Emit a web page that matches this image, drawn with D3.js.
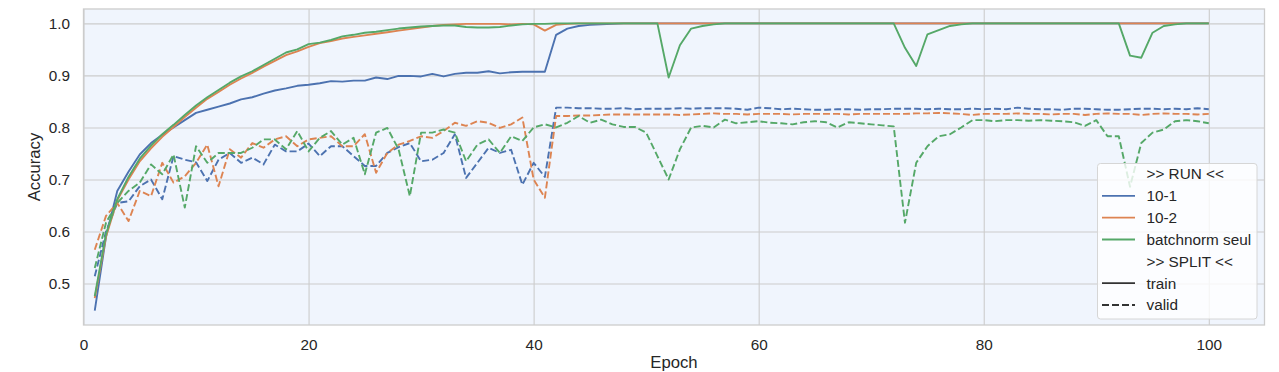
<!DOCTYPE html>
<html>
<head>
<meta charset="utf-8">
<script src="https://cdn.jsdelivr.net/npm/d3@7"></script>
<style>
  body { margin: 0; background: #ffffff; }
  text { font-family: "Liberation Sans", Arial, sans-serif; fill: #262626; }
</style>
</head>
<body>
<div id="chart"></div>
<script>
// epochs 1..100
let epochs = d3.range(1, 101);

let train_10_1 = [
  0.448, 0.590, 0.678, 0.715, 0.748, 0.770, 0.786, 0.800, 0.814, 0.828,
  0.834, 0.840, 0.846, 0.854, 0.858, 0.865, 0.871, 0.875, 0.880, 0.882,
  0.885, 0.889, 0.888, 0.890, 0.890, 0.896, 0.893, 0.899, 0.899, 0.898,
  0.903, 0.898, 0.903, 0.905, 0.905, 0.908, 0.904, 0.906, 0.907, 0.907,
  0.907, 0.978, 0.990, 0.995, 0.997, 0.998, 0.999, 1.000, 1.000, 1.000,
  1.000, 1.000, 1.000, 1.000, 1.000, 1.000, 1.000, 1.000, 1.000, 1.000,
  1.000, 1.000, 1.000, 1.000, 1.000, 1.000, 1.000, 1.000, 1.000, 1.000,
  1.000, 1.000, 1.000, 1.000, 1.000, 1.000, 1.000, 1.000, 1.000, 1.000,
  1.000, 1.000, 1.000, 1.000, 1.000, 1.000, 1.000, 1.000, 1.000, 1.000,
  1.000, 1.000, 1.000, 1.000, 1.000, 1.000, 1.000, 1.000, 1.000, 1.000
];
let valid_10_1 = [
  0.514, 0.600, 0.655, 0.658, 0.687, 0.700, 0.662, 0.745, 0.738, 0.733,
  0.697, 0.738, 0.751, 0.732, 0.742, 0.729, 0.767, 0.754, 0.754, 0.769,
  0.745, 0.764, 0.764, 0.745, 0.726, 0.726, 0.751, 0.762, 0.770, 0.735,
  0.738, 0.751, 0.787, 0.703, 0.732, 0.761, 0.751, 0.757, 0.690, 0.732,
  0.705, 0.838, 0.838, 0.837, 0.837, 0.836, 0.836, 0.837, 0.835, 0.836,
  0.836, 0.836, 0.837, 0.836, 0.837, 0.837, 0.837, 0.836, 0.834, 0.838,
  0.837, 0.835, 0.836, 0.835, 0.834, 0.834, 0.835, 0.835, 0.834, 0.835,
  0.835, 0.836, 0.836, 0.836, 0.835, 0.836, 0.835, 0.835, 0.836, 0.835,
  0.836, 0.835, 0.838, 0.836, 0.835, 0.835, 0.834, 0.836, 0.836, 0.835,
  0.834, 0.834, 0.835, 0.836, 0.836, 0.835, 0.836, 0.835, 0.837, 0.835
];
let train_10_2 = [
  0.472, 0.590, 0.660, 0.700, 0.735, 0.760, 0.782, 0.801, 0.820, 0.838,
  0.855, 0.868, 0.882, 0.894, 0.905, 0.917, 0.928, 0.939, 0.946, 0.955,
  0.962, 0.966, 0.971, 0.974, 0.977, 0.980, 0.983, 0.986, 0.989, 0.992,
  0.995, 0.997, 0.998, 0.999, 0.999, 0.999, 0.999, 0.998, 0.999, 0.998,
  0.986, 0.997, 0.999, 1.000, 1.000, 1.000, 1.000, 1.000, 1.000, 1.000,
  1.000, 1.000, 1.000, 1.000, 1.000, 1.000, 1.000, 1.000, 1.000, 1.000,
  1.000, 1.000, 1.000, 1.000, 1.000, 1.000, 1.000, 1.000, 1.000, 1.000,
  1.000, 1.000, 1.000, 1.000, 1.000, 1.000, 1.000, 1.000, 1.000, 1.000,
  1.000, 1.000, 1.000, 1.000, 1.000, 1.000, 1.000, 1.000, 1.000, 1.000,
  1.000, 1.000, 1.000, 1.000, 1.000, 1.000, 1.000, 1.000, 1.000, 1.000
];
let valid_10_2 = [
  0.565, 0.630, 0.655, 0.620, 0.678, 0.668, 0.732, 0.694, 0.706, 0.732,
  0.767, 0.687, 0.758, 0.742, 0.770, 0.761, 0.777, 0.783, 0.764, 0.777,
  0.780, 0.783, 0.764, 0.764, 0.787, 0.713, 0.751, 0.767, 0.774, 0.783,
  0.780, 0.793, 0.809, 0.803, 0.812, 0.809, 0.799, 0.806, 0.819, 0.700,
  0.665, 0.822, 0.822, 0.823, 0.823, 0.824, 0.825, 0.825, 0.825, 0.825,
  0.825, 0.825, 0.824, 0.825, 0.826, 0.827, 0.826, 0.826, 0.825, 0.826,
  0.826, 0.826, 0.825, 0.826, 0.826, 0.826, 0.826, 0.825, 0.826, 0.826,
  0.826, 0.826, 0.826, 0.827, 0.827, 0.828, 0.827, 0.826, 0.824, 0.826,
  0.826, 0.826, 0.827, 0.826, 0.826, 0.825, 0.826, 0.826, 0.824, 0.826,
  0.827, 0.826, 0.826, 0.824, 0.826, 0.827, 0.826, 0.826, 0.825, 0.826
];
let train_bn = [
  0.476, 0.595, 0.662, 0.705, 0.740, 0.765, 0.787, 0.805, 0.824, 0.842,
  0.858, 0.872, 0.886, 0.898, 0.908, 0.920, 0.932, 0.944, 0.950, 0.960,
  0.963, 0.968, 0.975, 0.978, 0.982, 0.984, 0.987, 0.990, 0.992, 0.994,
  0.995, 0.996, 0.996, 0.993, 0.992, 0.992, 0.993, 0.996, 0.998, 0.999,
  0.999, 1.000, 1.000, 1.000, 1.000, 1.000, 1.000, 1.000, 1.000, 1.000,
  1.000, 0.896, 0.958, 0.990, 0.995, 0.998, 1.000, 1.000, 1.000, 1.000,
  1.000, 1.000, 1.000, 1.000, 1.000, 1.000, 1.000, 1.000, 1.000, 1.000,
  1.000, 1.000, 0.953, 0.918, 0.979, 0.987, 0.995, 0.998, 1.000, 1.000,
  1.000, 1.000, 1.000, 1.000, 1.000, 1.000, 1.000, 1.000, 1.000, 1.000,
  1.000, 1.000, 0.938, 0.934, 0.982, 0.995, 0.998, 1.000, 1.000, 1.000
];
let valid_bn = [
  0.530, 0.617, 0.655, 0.678, 0.694, 0.729, 0.710, 0.748, 0.646, 0.764,
  0.732, 0.751, 0.751, 0.751, 0.761, 0.777, 0.777, 0.758, 0.793, 0.754,
  0.780, 0.793, 0.767, 0.780, 0.710, 0.790, 0.799, 0.758, 0.668, 0.790,
  0.790, 0.796, 0.790, 0.735, 0.767, 0.777, 0.751, 0.783, 0.774, 0.800,
  0.806, 0.800, 0.809, 0.822, 0.809, 0.815, 0.806, 0.801, 0.801, 0.790,
  0.745, 0.700, 0.758, 0.800, 0.803, 0.800, 0.815, 0.808, 0.810, 0.812,
  0.809, 0.808, 0.806, 0.810, 0.812, 0.810, 0.800, 0.810, 0.808, 0.806,
  0.804, 0.802, 0.617, 0.732, 0.764, 0.783, 0.787, 0.800, 0.814, 0.814,
  0.812, 0.814, 0.814, 0.813, 0.814, 0.813, 0.812, 0.810, 0.803, 0.814,
  0.783, 0.783, 0.686, 0.770, 0.790, 0.796, 0.812, 0.814, 0.812, 0.808
];

let runNames = ["10-1", "10-2", "batchnorm seul"];
let runColors = ["#4c72b0", "#dd8452", "#55a868"];
let splitNames = ["train", "valid"];
let xTicks = [0, 20, 40, 60, 80, 100];
let yTicks = [0.5, 0.6, 0.7, 0.8, 0.9, 1.0];

// series in seaborn draw order: run by run, train then valid
let series = [
  { run: 0, split: 0, values: train_10_1 },
  { run: 0, split: 1, values: valid_10_1 },
  { run: 1, split: 0, values: train_10_2 },
  { run: 1, split: 1, values: valid_10_2 },
  { run: 2, split: 0, values: train_bn },
  { run: 2, split: 1, values: valid_bn }
];

let W = 1279, H = 372;
let margin = { left: 83.5, right: 14.5, top: 9, bottom: 47 };
let width = W - margin.left - margin.right;
let height = H - margin.top - margin.bottom;

let svg = d3.select("#chart").append("svg")
    .attr("width", W)
    .attr("height", H);

let graph = svg.append("g")
    .attr("transform", "translate(" + margin.left + "," + margin.top + ")");

let x = d3.scaleLinear().domain([0, 104.95]).range([0, width]);
let y = d3.scaleLinear().domain([0.4204, 1.0276]).range([height, 0]);

graph.append("rect")
    .attr("width", width)
    .attr("height", height)
    .attr("fill", "#f0f5fd");

graph.append("clipPath").attr("id", "plotclip")
    .append("rect").attr("width", width).attr("height", height);

// axes, inner ticks used as the grid
let xAxis = graph.append("g")
    .attr("transform", "translate(0," + height + ")")
    .call(d3.axisBottom(x).tickValues(xTicks).tickSizeInner(-height).tickSizeOuter(0).tickPadding(14.6));
let yAxis = graph.append("g")
    .call(d3.axisLeft(y).tickValues(yTicks).tickFormat(d3.format(".1f")).tickSizeInner(-width).tickSizeOuter(0).tickPadding(13.5));

[xAxis, yAxis].forEach(function (a) {
    a.select(".domain").remove();
    a.selectAll(".tick line").attr("stroke", "#cccccc").attr("stroke-width", 1.1);
    a.selectAll(".tick text").style("font-size", "15.3px").attr("fill", "#262626")
        .style("font-family", "'Liberation Sans', Arial, sans-serif");
});

let line = d3.line()
    .x(function (d, i) { return x(epochs[i]); })
    .y(function (d) { return y(d); });

graph.append("g")
    .attr("clip-path", "url(#plotclip)")
    .selectAll("path")
    .data(series)
    .enter().append("path")
    .attr("d", function (d) { return line(d.values); })
    .attr("fill", "none")
    .attr("stroke", function (d) { return runColors[d.run]; })
    .attr("stroke-width", 1.9)
    .attr("stroke-linejoin", "round")
    .attr("stroke-dasharray", function (d) { return d.split == 1 ? "7,3" : null; });

// spines
graph.append("rect")
    .attr("width", width)
    .attr("height", height)
    .attr("fill", "none")
    .attr("stroke", "#cccccc")
    .attr("stroke-width", 1.3);

// axis labels
svg.append("text")
    .attr("x", margin.left + width / 2)
    .attr("y", 367.5)
    .attr("text-anchor", "middle")
    .style("font-size", "16.7px")
    .text("Epoch");

svg.append("text")
    .attr("transform", "translate(40," + (margin.top + height / 2) + ") rotate(-90)")
    .attr("text-anchor", "middle")
    .style("font-size", "16.7px")
    .text("Accuracy");

// legend
let legend = svg.append("g").attr("transform", "translate(1097.5,163.5)");
legend.append("rect")
    .attr("width", 159.5)
    .attr("height", 155.5)
    .attr("rx", 3)
    .attr("fill", "#ffffff")
    .attr("fill-opacity", 0.8)
    .attr("stroke", "#d6d6d6")
    .attr("stroke-width", 1);

let legendRows = [
    { label: ">> RUN <<", color: null, dash: null },
    { label: runNames[0], color: runColors[0], dash: null },
    { label: runNames[1], color: runColors[1], dash: null },
    { label: runNames[2], color: runColors[2], dash: null },
    { label: ">> SPLIT <<", color: null, dash: null },
    { label: splitNames[0], color: "#333333", dash: null },
    { label: splitNames[1], color: "#333333", dash: "7,3" }
];

let rowY = d3.scaleLinear().domain([0, 6]).range([10.5, 141.5]);

legendRows.forEach(function (r, i) {
    if (r.color) {
        legend.append("line")
            .attr("x1", 4.5).attr("x2", 37.5)
            .attr("y1", rowY(i)).attr("y2", rowY(i))
            .attr("stroke", r.color)
            .attr("stroke-width", 1.9)
            .attr("stroke-dasharray", r.dash);
    }
    legend.append("text")
        .attr("x", 49)
        .attr("y", rowY(i))
        .attr("dy", "0.35em")
        .style("font-size", "15.3px")
        .text(r.label);
});
</script>
</body>
</html>
